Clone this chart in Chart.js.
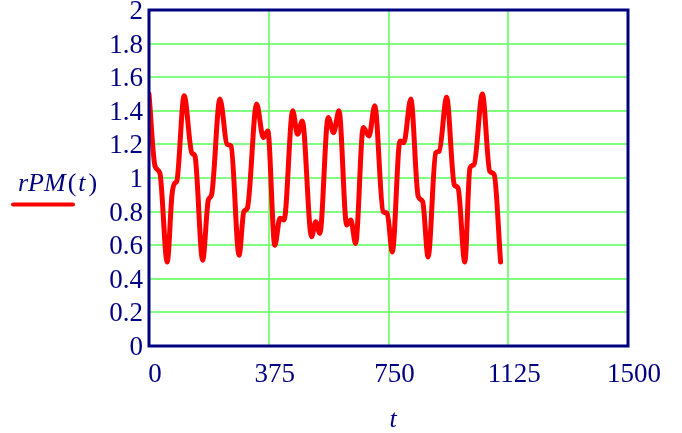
<!DOCTYPE html>
<html>
<head>
<meta charset="utf-8">
<script src="https://cdn.jsdelivr.net/npm/chart.js@4.4.1/dist/chart.umd.min.js"></script>
<style>
  html, body { margin: 0; padding: 0; background: #fff; }
  #wrap { width: 682px; height: 433px; }
</style>
</head>
<body>
<div id="wrap"><canvas id="chart-rpm"></canvas></div>
<script>
// values
const tValues = [0, 19, 34, 57, 72, 81, 87, 110, 134, 144, 168, 186, 196, 222, 245, 257, 282, 297, 308,
  337, 358, 372, 394, 410, 423, 450, 465, 480, 509, 522, 535, 561, 578, 595, 619, 632, 647, 671, 689,
  707, 733, 746, 762, 786, 798, 820, 843, 857, 874, 898, 909, 932, 956, 968, 989, 1005, 1018, 1044,
  1067, 1081, 1101];
const rpmValues = [1.50, 1.07, 1.03, 0.50, 0.90, 0.97, 0.98, 1.49, 1.15, 1.13, 0.51, 0.87, 0.90, 1.47,
  1.20, 1.19, 0.54, 0.80, 0.82, 1.44, 1.24, 1.28, 0.60, 0.76, 0.75, 1.40, 1.26, 1.34, 0.65, 0.74, 0.67,
  1.36, 1.27, 1.40, 0.72, 0.75, 0.61, 1.30, 1.25, 1.43, 0.80, 0.79, 0.56, 1.22, 1.21, 1.47, 0.89, 0.86,
  0.53, 1.15, 1.16, 1.48, 0.96, 0.94, 0.50, 1.06, 1.08, 1.50, 1.04, 1.02, 0.50];
const xTicks = [0, 375, 750, 1125, 1500];
const yTicks = [0, 0.2, 0.4, 0.6, 0.8, 1, 1.2, 1.4, 1.6, 1.8, 2];

const navy = `#000080`;
const serif = `"Liberation Serif", "Times New Roman", serif`;

// frame, y label with its line sample, x label
const decorations = {
  id: `decorations`,
  afterDraw(chart) {
    const { ctx, chartArea } = chart;
    ctx.save();
    ctx.strokeStyle = navy;
    ctx.lineWidth = 3;
    ctx.strokeRect(chartArea.left, chartArea.top, chartArea.right - chartArea.left, chartArea.bottom - chartArea.top);

    ctx.fillStyle = navy;
    ctx.textBaseline = `alphabetic`;
    let x = 18;
    const parts = [[`rPM`, `italic`, 2], [`(`, `normal`, 2], [`t`, `italic`, 3], [`)`, `normal`, 0]];
    parts.forEach(([txt, style, gap]) => {
      ctx.font = `${style} 26px ${serif}`;
      ctx.fillText(txt, x, 191);
      x += ctx.measureText(txt).width + gap;
    });

    ctx.strokeStyle = `#ff0000`;
    ctx.lineWidth = 4;
    ctx.lineCap = `round`;
    ctx.beginPath();
    ctx.moveTo(13, 204.5);
    ctx.lineTo(73, 204.5);
    ctx.stroke();

    ctx.font = `italic 26px ${serif}`;
    ctx.textAlign = `center`;
    ctx.fillText(`t`, 393, 427);
    ctx.restore();
  }
};

const ctxRpm = document.getElementById(`chart-rpm`);
const chartRpm = new Chart(ctxRpm, {
  type: `line`,
  data: {
    datasets: [{
      label: `rPM(t)`,
      data: tValues.map((t, i) => ({ x: t, y: rpmValues[i] })),
      borderColor: `#ff0000`,
      borderWidth: 5,
      pointRadius: 0,
      cubicInterpolationMode: `monotone`,
      borderJoinStyle: `round`,
      borderCapStyle: `round`,
      fill: false,
    }]
  },
  options: {
    responsive: true,
    maintainAspectRatio: false,
    animation: false,
    layout: {
      padding: { left: 0, top: 10, right: 54, bottom: 0 }
    },
    plugins: {
      legend: { display: false },
      tooltip: { enabled: false },
    },
    scales: {
      x: {
        type: `linear`,
        min: 0,
        max: 1500,
        afterBuildTicks: (scale) => { scale.ticks = xTicks.map(v => ({ value: v })); },
        afterFit: (scale) => {
          scale.height = 87;
          scale.paddingLeft = 0;
          scale.paddingRight = 0;
        },
        grid: { color: `#80ff80`, lineWidth: 2, drawTicks: false },
        border: { display: false },
        ticks: {
          color: navy,
          font: { family: serif, size: 27 },
          padding: 13,
          labelOffset: 6,
          maxRotation: 0,
          autoSkip: false,
          callback: (v) => String(v),
        },
      },
      y: {
        min: 0,
        max: 2,
        afterBuildTicks: (scale) => { scale.ticks = yTicks.map(v => ({ value: v })); },
        afterFit: (scale) => {
          scale.width = 149;
          scale.paddingTop = 0;
          scale.paddingBottom = 0;
        },
        grid: { color: `#80ff80`, lineWidth: 2, drawTicks: false },
        border: { display: false },
        ticks: {
          color: navy,
          font: { family: serif, size: 27 },
          padding: 6,
          labelOffset: 2,
          autoSkip: false,
          callback: (v) => String(Number(v.toFixed(1))),
        },
      }
    }
  },
  plugins: [decorations]
});
</script>
</body>
</html>
